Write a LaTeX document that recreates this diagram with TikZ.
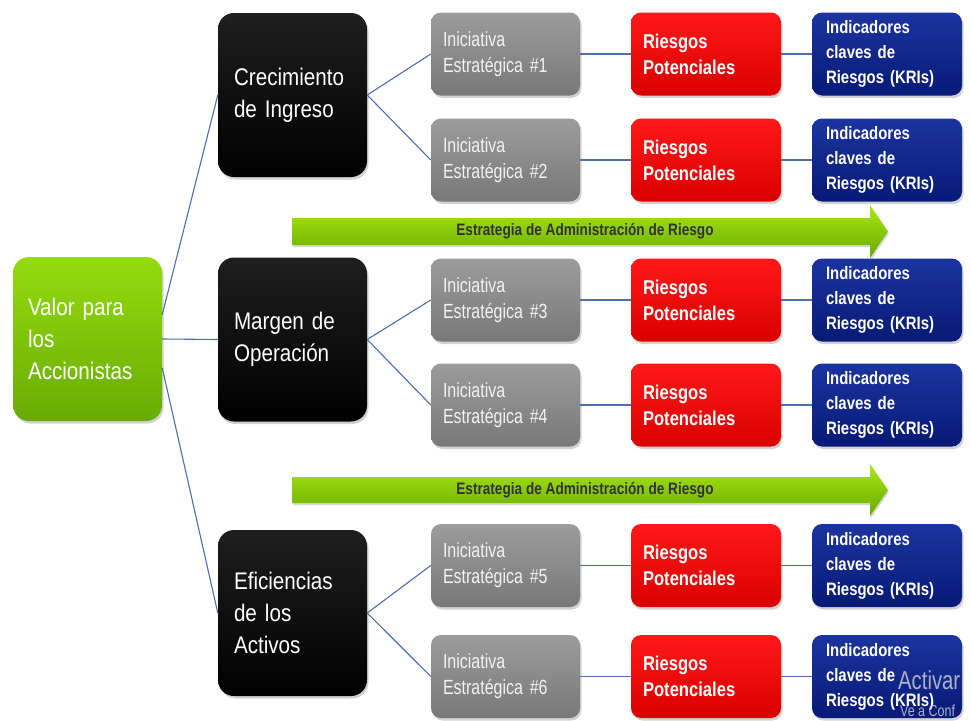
\documentclass[tikz,border=0pt]{standalone}
\usepackage{fontspec}
\setmainfont{Liberation Sans}
\newfontfamily\fblk[FakeStretch=0.86]{Liberation Sans}
\newfontfamily\fgry[FakeStretch=0.78]{Liberation Sans}
\newfontfamily\fred[FakeStretch=0.83]{Liberation Sans}
\newfontfamily\fblu[FakeStretch=0.83]{Liberation Sans}
\newfontfamily\farr[FakeStretch=0.82]{Liberation Sans}
\newfontfamily\fwm[FakeStretch=0.78]{Liberation Sans}
\usetikzlibrary{shadows}
\definecolor{linkc}{RGB}{79,110,175}
\definecolor{grtop}{RGB}{148,220,14}
\definecolor{grbot}{RGB}{104,172,4}
\definecolor{gytop}{RGB}{156,156,156}
\definecolor{gybot}{RGB}{120,120,120}
\definecolor{gytext}{RGB}{242,242,242}
\definecolor{rdtop}{RGB}{255,24,24}
\definecolor{rdbot}{RGB}{218,0,0}
\definecolor{bltop}{RGB}{28,52,160}
\definecolor{blbot}{RGB}{6,26,118}
\definecolor{artop}{RGB}{170,232,20}
\definecolor{arbot}{RGB}{104,170,0}
\definecolor{artext}{RGB}{50,50,50}
\definecolor{wmark}{RGB}{200,200,208}
\tikzset{
  boxbase/.style={draw=none, align=left, inner ysep=0pt,
    drop shadow={opacity=0.35, shadow xshift=1.5pt, shadow yshift=-2.5pt}},
  valbox/.style={boxbase, rounded corners=16pt, minimum width=149pt, minimum height=164pt,
    text width=119pt, inner xsep=15pt, top color=grtop, bottom color=grbot, text=white,
    font=\fblk\fontsize{24}{32}\selectfont},
  goalbox/.style={boxbase, rounded corners=16pt, minimum width=149pt, minimum height=164pt,
    text width=117pt, inner xsep=16pt, top color=black!88, bottom color=black, text=white,
    font=\fblk\fontsize{24}{32}\selectfont},
  initbox/.style={boxbase, rounded corners=10pt, minimum width=149pt, minimum height=83pt,
    text width=125pt, inner xsep=12pt, top color=gytop, bottom color=gybot, text=gytext,
    font=\fgry\fontsize{20.5}{26}\selectfont},
  riskbox/.style={boxbase, rounded corners=10pt, minimum width=150pt, minimum height=83pt,
    text width=126pt, inner xsep=12pt, top color=rdtop, bottom color=rdbot, text=white,
    font=\fred\bfseries\fontsize{20}{26}\selectfont},
  kribox/.style={boxbase, rounded corners=10pt, minimum width=150pt, minimum height=83pt,
    text width=122pt, inner xsep=14pt, top color=bltop, bottom color=blbot, text=white,
    font=\fblu\bfseries\fontsize{18}{25}\selectfont},
  link/.style={draw=linkc, line width=1.1pt},
  arrband/.style={top color=artop, bottom color=arbot, draw=none,
    drop shadow={opacity=0.3, shadow xshift=1pt, shadow yshift=-2pt}},
  arrtext/.style={text=artext, font=\farr\bfseries\fontsize{16.6}{18}\selectfont, inner sep=0pt},
  wm/.style={text=wmark, opacity=0.85, inner sep=0pt}
}
\begin{document}
\begin{tikzpicture}[x=1pt,y=-1pt]
\useasboundingbox (0,0) rectangle (971,720);
\fill[white] (0,0) rectangle (971,720);

% strategy arrows
\path[arrband] (292,218) -- (870,218) -- (870,205) -- (888,231.5) -- (870,258) -- (870,245) -- (292,245) -- cycle;
\node[arrtext] (a1) at (585,231.5) {Estrategia de Administración de Riesgo};
\path[arrband] (292,477) -- (870,477) -- (870,464) -- (888,490) -- (870,516) -- (870,503) -- (292,503) -- cycle;
\node[arrtext] (a2) at (585,490) {Estrategia de Administración de Riesgo};

% root
\node[valbox] (val) at (87.5,339) {Valor para\\los\\Accionistas};

% goals
\node[goalbox] (c1) at (292.5,95) {Crecimiento\\de Ingreso};
\node[goalbox] (c2) at (292.5,339.5) {Margen de\\Operación};
\node[goalbox, minimum height=166pt] (c3) at (292.5,613) {Eficiencias\\de los\\Activos};

% initiative rows
\foreach \i/\yy in {1/54,2/160,3/300,4/405,5/565.5,6/676.5}{
  \node[initbox] (g\i) at (505.5,\yy) {Iniciativa\\Estratégica \#\i};
  \node[riskbox] (r\i) at (706,\yy) {Riesgos\\Potenciales};
  \node[kribox] (k\i) at (887,\yy) {Indicadores\\claves de\\Riesgos (KRIs)};
  \draw[link] (g\i.east) -- (r\i.west);
  \draw[link] (r\i.east) -- (k\i.west);
}

% connectors root -> goals
\draw[link] (val.18) -- (c1.west);
\draw[link] (val.east) -- (c2.west);
\draw[link] (val.-21) -- (c3.west);

% goals -> initiatives
\draw[link] (c1.east) -- (g1.west);
\draw[link] (c1.east) -- (g2.west);
\draw[link] (c2.east) -- (g3.west);
\draw[link] (c2.east) -- (g4.west);
\draw[link] (c3.east) -- (g5.west);
\draw[link] (c3.east) -- (g6.west);

% screen watermark
\node[wm, anchor=base west, font=\fwm\fontsize{26}{28}\selectfont] (w1) at (898,689) {Activar};
\node[wm, anchor=base west, font=\fwm\fontsize{16}{18}\selectfont] (w2) at (900,716) {Ve a Conf};
\end{tikzpicture}
\end{document}
